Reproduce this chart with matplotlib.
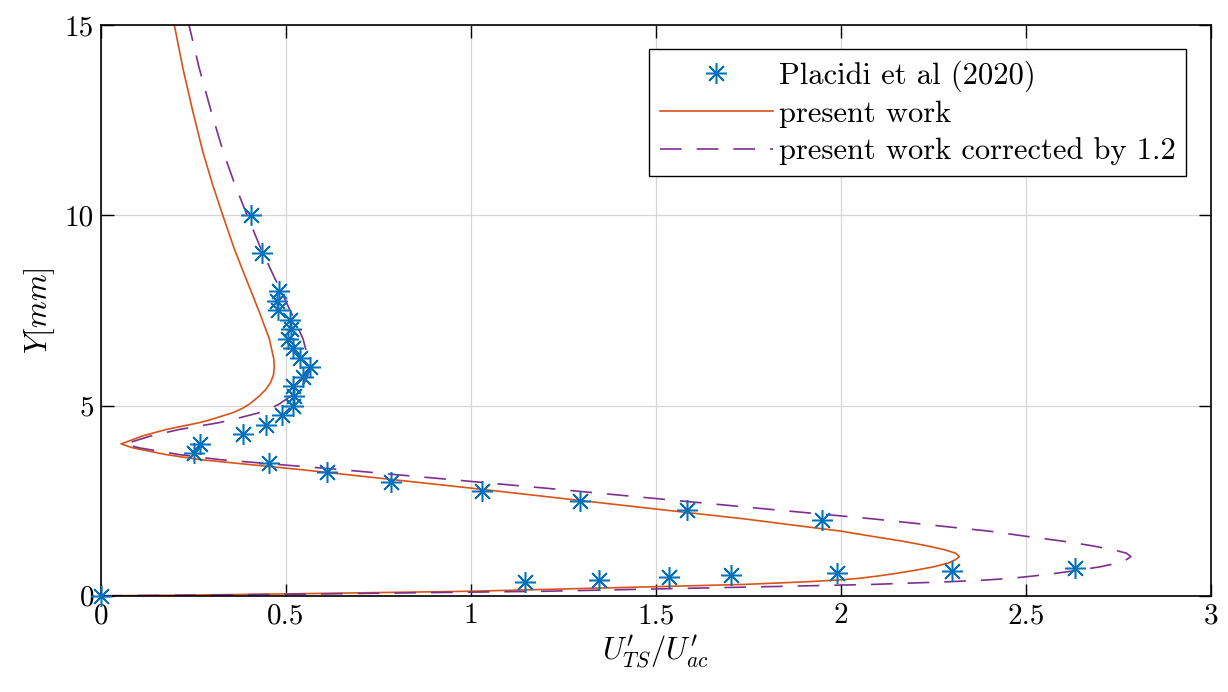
import matplotlib
matplotlib.use("Agg")
import matplotlib.pyplot as plt

plt.rcParams['font.family'] = 'serif'
plt.rcParams['font.serif'] = ['cmr10', 'DejaVu Serif']
plt.rcParams['mathtext.fontset'] = 'cm'
plt.rcParams['axes.formatter.use_mathtext'] = True

# Placidi et al (2020) measurements
placidi_x = [0.405, 0.435, 0.48, 0.475, 0.478, 0.51, 0.513, 0.505, 0.52, 0.538,
             0.565, 0.547, 0.518, 0.522, 0.518, 0.49, 0.445, 0.384, 0.268, 0.25,
             0.455, 0.612, 0.784, 1.03, 1.295, 1.583, 1.95,
             2.633, 2.30, 1.989, 1.703, 1.534, 1.345, 1.146, 0.0]
placidi_y = [10.0, 9.0, 8.0, 7.75, 7.5, 7.25, 7.0, 6.75, 6.5, 6.25,
             6.0, 5.75, 5.5, 5.25, 5.0, 4.75, 4.5, 4.25, 4.0, 3.75,
             3.5, 3.25, 3.0, 2.75, 2.5, 2.25, 2.0,
             0.72, 0.66, 0.61, 0.55, 0.49, 0.41, 0.35, 0.0]

# present work profile, read from bottom (wall) to top
present_x = [0.0, 0.25, 0.5, 1.0, 1.5, 1.74, 1.91, 2.0, 2.05, 2.1, 2.15, 2.2,
             2.25, 2.29, 2.31, 2.32, 2.31, 2.28, 2.23, 2.17, 2.08, 2.0, 1.91,
             1.74, 1.5, 1.0, 0.536, 0.40, 0.266, 0.176, 0.085, 0.054,
             0.112, 0.176, 0.266, 0.293, 0.356, 0.383, 0.40, 0.428, 0.446,
             0.458, 0.466, 0.468, 0.467, 0.455, 0.428, 0.392, 0.36, 0.329,
             0.302, 0.275, 0.248, 0.221, 0.198]
present_y = [0.0, 0.02, 0.05, 0.12, 0.24, 0.30, 0.37, 0.42, 0.46, 0.52, 0.59, 0.67,
             0.76, 0.86, 0.95, 1.03, 1.12, 1.21, 1.32, 1.43, 1.57, 1.70, 1.81,
             2.02, 2.28, 2.83, 3.32, 3.45, 3.58, 3.71, 3.89, 3.99,
             4.20, 4.37, 4.55, 4.62, 4.81, 4.93, 5.03, 5.25, 5.43,
             5.60, 5.80, 6.00, 6.22, 6.75, 7.45, 8.33, 9.12, 10.0,
             10.79, 11.67, 12.73, 13.87, 15.0]

# correction factor from the legend
factor = 1.2
corrected_x = [factor * v for v in present_x]

fig = plt.figure(figsize=(12.28, 6.92), dpi=100)
ax = fig.add_axes([0.0823, 0.139, 0.9037, 0.825])

ax.plot(placidi_x, placidi_y, linestyle='none', marker=(8, 2, 0), markersize=15,
        markeredgewidth=1.1, color='#0072BD', label='Placidi et al (2020)',
        clip_on=False, zorder=3)
ax.plot(present_x, present_y, color='#D95319', lw=1.2, label='present work')
ax.plot(corrected_x, present_y, color='#7E2F8E', lw=1.2, dashes=(13, 9),
        label='present work corrected by 1.2')

ax.set_xlim(0, 3)
ax.set_ylim(0, 15)
ax.set_xticks([0, 0.5, 1, 1.5, 2, 2.5, 3])
ax.set_xticklabels(['0', '0.5', '1', '1.5', '2', '2.5', '3'])
ax.set_yticks([0, 5, 10, 15])
ax.set_yticklabels(['0', '5', '10', '15'])
ax.grid(True, color='#d6d6d6', lw=0.9)
ax.set_axisbelow(True)
ax.tick_params(direction='in', length=9, width=1.0, top=True, right=True,
               labelsize=21, pad=5)
for s in ax.spines.values():
    s.set_linewidth(1.2)

ax.set_xlabel(r"$U^{\prime}_{TS}/U^{\prime}_{ac}$", fontsize=22, labelpad=3)
ax.set_ylabel(r"$Y[mm]$", fontsize=22, labelpad=6)

leg = ax.legend(loc='upper right', fontsize=22, frameon=True, fancybox=False,
                edgecolor='black', framealpha=1, borderpad=0.35, handlelength=3.7,
                handletextpad=0.2, labelspacing=0.3, borderaxespad=0.8)
leg.get_frame().set_linewidth(1.0)

fig.savefig('out.png', dpi=100)
